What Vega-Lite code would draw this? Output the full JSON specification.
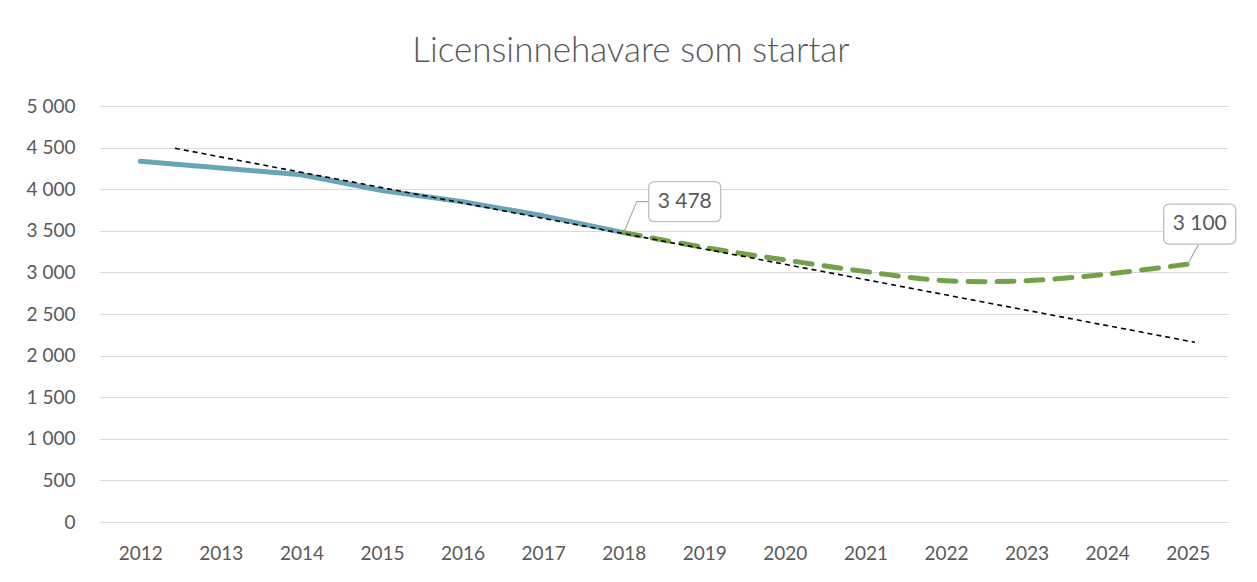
{
  "$schema": "https://vega.github.io/schema/vega-lite/v6.json",
  "width": 1128,
  "height": 416,
  "autosize": {"type": "none"},
  "padding": {"left": 100, "top": 106, "right": 29, "bottom": 60},
  "background": "white",
  "config": {
    "locale": {"number": {"decimal": ",", "thousands": " ", "grouping": [3], "currency": ["", " kr"]}},
    "view": {"stroke": null},
    "font": "Lato",
    "axis": {"labelFont": "Lato", "labelFontSize": 19, "labelColor": "#595959", "titleColor": "#595959"}
  },
  "title": {
    "text": "Licensinnehavare som startar",
    "font": "Lato",
    "fontSize": 35,
    "fontWeight": 300,
    "color": "#595959",
    "anchor": "middle",
    "baseline": "alphabetic",
    "offset": 0,
    "dx": -33
  },
  "datasets": {
    "actual": [
      {"year": 2012, "value": 4335},
      {"year": 2013, "value": 4255},
      {"year": 2014, "value": 4174},
      {"year": 2015, "value": 3985},
      {"year": 2016, "value": 3850},
      {"year": 2017, "value": 3680},
      {"year": 2018, "value": 3478}
    ],
    "forecast": [
      {"year": 2018, "value": 3478},
      {"year": 2019, "value": 3300},
      {"year": 2020, "value": 3150},
      {"year": 2021, "value": 3010},
      {"year": 2022, "value": 2900},
      {"year": 2023, "value": 2900},
      {"year": 2024, "value": 2980},
      {"year": 2025, "value": 3100}
    ],
    "trend": [
      {"year": 2012.43, "value": 4492},
      {"year": 2025.09, "value": 2160}
    ]
  },
  "encoding": {
    "x": {
      "field": "year",
      "type": "quantitative",
      "scale": {"domain": [2011.5, 2025.5], "nice": false, "zero": false},
      "axis": {
        "title": null,
        "values": [2012, 2013, 2014, 2015, 2016, 2017, 2018, 2019, 2020, 2021, 2022, 2023, 2024, 2025],
        "format": "d",
        "grid": false,
        "ticks": false,
        "tickSize": 0,
        "labelPadding": 22,
        "domain": true,
        "domainColor": "#d9d9d9",
        "domainWidth": 1
      }
    },
    "y": {
      "field": "value",
      "type": "quantitative",
      "scale": {"domain": [0, 5000], "nice": false},
      "axis": {
        "title": null,
        "values": [0, 500, 1000, 1500, 2000, 2500, 3000, 3500, 4000, 4500, 5000],
        "format": ",.0f",
        "grid": true,
        "gridColor": "#d9d9d9",
        "gridWidth": 1,
        "ticks": false,
        "tickSize": 0,
        "domain": false,
        "labelPadding": 25
      }
    }
  },
  "layer": [
    {
      "data": {"name": "actual"},
      "mark": {"type": "line", "color": "#6aa4b9", "strokeWidth": 5, "strokeCap": "round", "strokeJoin": "round"}
    },
    {
      "data": {"name": "forecast"},
      "mark": {"type": "line", "color": "#72a148", "strokeWidth": 5, "strokeCap": "round", "strokeDash": [17, 12], "interpolate": "catmull-rom"}
    },
    {
      "data": {"name": "trend"},
      "mark": {"type": "line", "color": "#000000", "strokeWidth": 1.6, "strokeDash": [5, 4]}
    },
    {
      "data": {"name": "forecast"},
      "transform": [{"filter": "datum.year == 2018"}],
      "mark": {"type": "rule", "color": "#a6a6a6", "strokeWidth": 1.2, "x2Offset": 13, "y2Offset": -31},
      "encoding": {"x2": {"field": "year"}, "y2": {"field": "value"}}
    },
    {
      "data": {"name": "forecast"},
      "transform": [{"filter": "datum.year == 2018"}],
      "mark": {"type": "rule", "color": "#a6a6a6", "strokeWidth": 1.2, "xOffset": 13, "yOffset": -31, "x2Offset": 26, "y2Offset": -31},
      "encoding": {"x2": {"field": "year"}, "y2": {"field": "value"}}
    },
    {
      "data": {"name": "forecast"},
      "transform": [{"filter": "datum.year == 2025"}],
      "mark": {"type": "rule", "color": "#a6a6a6", "strokeWidth": 1.2, "x2Offset": 11, "y2Offset": -20},
      "encoding": {"x2": {"field": "year"}, "y2": {"field": "value"}}
    },
    {
      "data": {"name": "forecast"},
      "transform": [{"filter": "datum.year == 2018"}],
      "mark": {
        "type": "point",
        "shape": "M-0.833,-0.556 L0.833,-0.556 Q1,-0.556 1,-0.389 L1,0.389 Q1,0.556 0.833,0.556 L-0.833,0.556 Q-1,0.556 -1,0.389 L-1,-0.389 Q-1,-0.556 -0.833,-0.556 Z",
        "size": 5184,
        "filled": true,
        "fill": "white",
        "stroke": "#bfbfbf",
        "strokeWidth": 1.3,
        "opacity": 1,
        "fillOpacity": 1,
        "xOffset": 61,
        "yOffset": -31
      }
    },
    {
      "data": {"name": "forecast"},
      "transform": [{"filter": "datum.year == 2018"}],
      "mark": {"type": "text", "font": "Lato", "fontSize": 21, "color": "#595959", "align": "center", "baseline": "middle", "dx": 61, "dy": -31},
      "encoding": {"text": {"field": "value", "type": "quantitative", "format": ",.0f"}}
    },
    {
      "data": {"name": "forecast"},
      "transform": [{"filter": "datum.year == 2025"}],
      "mark": {
        "type": "point",
        "shape": "M-0.833,-0.556 L0.833,-0.556 Q1,-0.556 1,-0.389 L1,0.389 Q1,0.556 0.833,0.556 L-0.833,0.556 Q-1,0.556 -1,0.389 L-1,-0.389 Q-1,-0.556 -0.833,-0.556 Z",
        "size": 5184,
        "filled": true,
        "fill": "white",
        "stroke": "#bfbfbf",
        "strokeWidth": 1.3,
        "opacity": 1,
        "fillOpacity": 1,
        "xOffset": 12,
        "yOffset": -40
      }
    },
    {
      "data": {"name": "forecast"},
      "transform": [{"filter": "datum.year == 2025"}],
      "mark": {"type": "text", "font": "Lato", "fontSize": 21, "color": "#595959", "align": "center", "baseline": "middle", "dx": 12, "dy": -40},
      "encoding": {"text": {"field": "value", "type": "quantitative", "format": ",.0f"}}
    }
  ]
}
